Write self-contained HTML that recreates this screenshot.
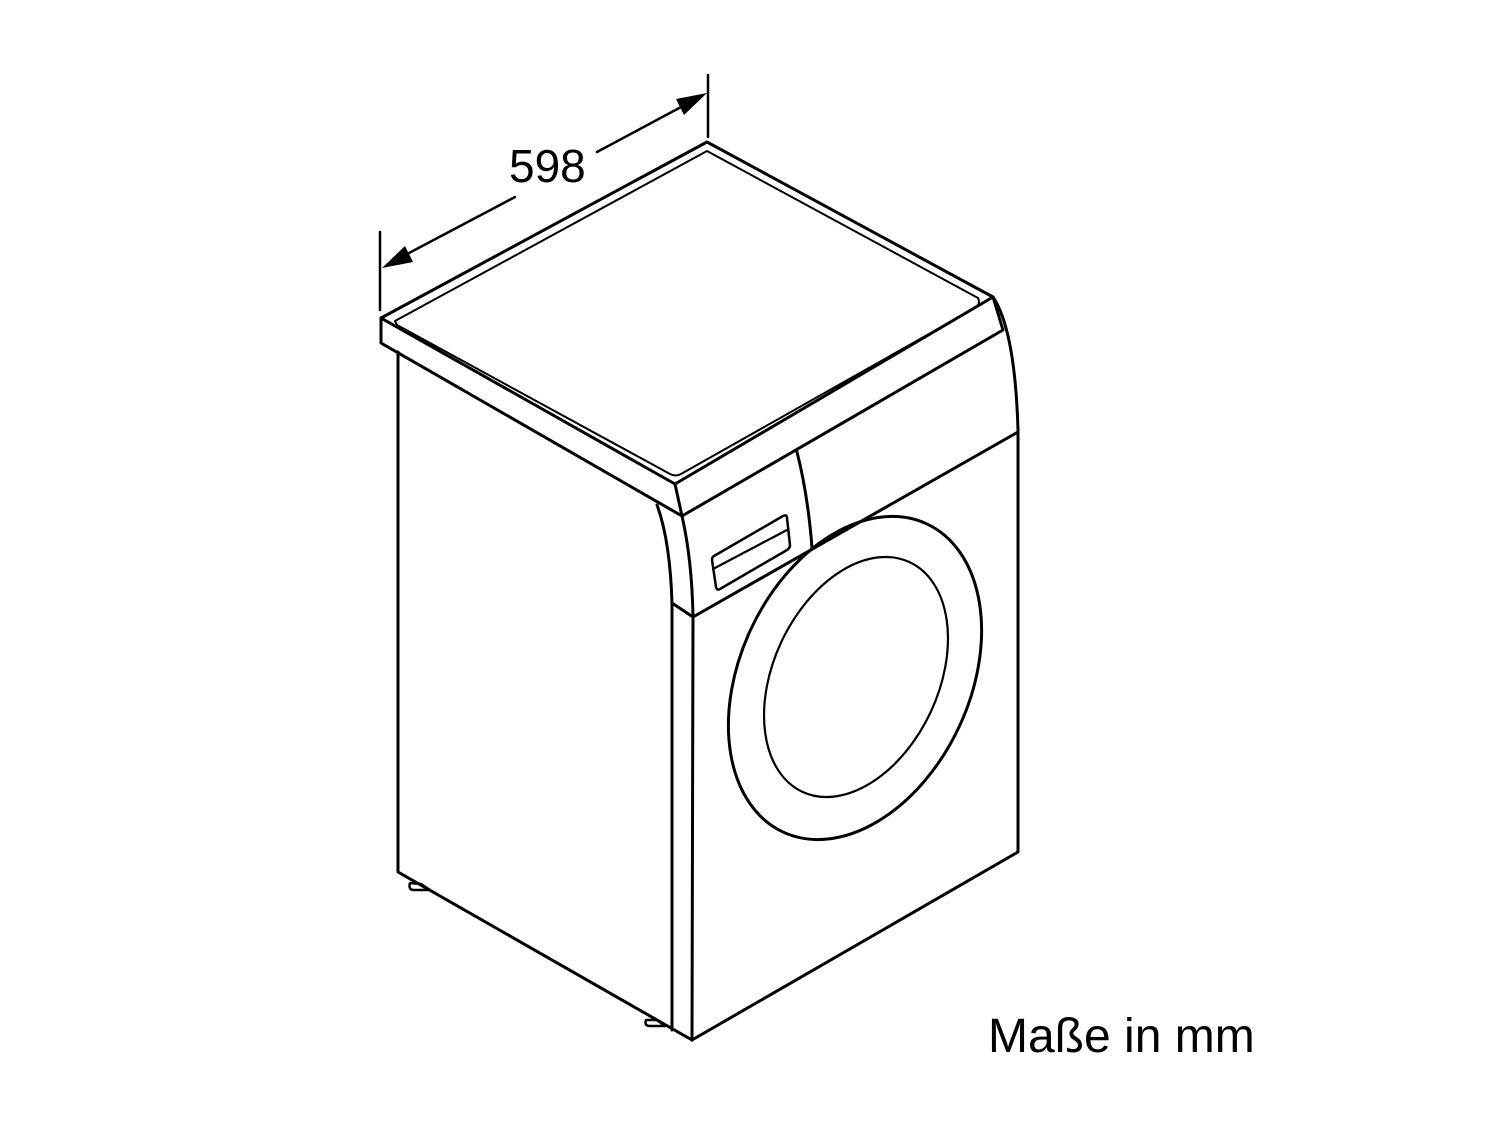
<!DOCTYPE html>
<html><head><meta charset="utf-8"><style>
html,body{margin:0;padding:0;background:#fff;}
svg{display:block;}
</style></head><body>
<svg width="1500" height="1125" viewBox="0 0 1500 1125" xmlns="http://www.w3.org/2000/svg">
<g fill="none" stroke="#000" stroke-width="3" stroke-linejoin="round" stroke-linecap="round">
<line x1="380" y1="232" x2="380" y2="310" stroke-width="2.5"/>
<line x1="708" y1="75" x2="708" y2="137" stroke-width="2.5"/>
<line x1="392" y1="262" x2="515" y2="197" stroke-width="2.5"/>
<line x1="597" y1="152" x2="696" y2="99" stroke-width="2.5"/>
<path d="M381,318 L707,142 L993,297 L675,484 Z"/>
<path d="M395,321 L707,151 L978,298 Q981,304 975,308 L681,474 Q676,477 670,474 L397,325 Z" stroke-width="2"/>
<path d="M381,318 L381,343 L682,516 L675,484"/>
<path d="M682,516 L1003,330 L993,297"/>
<path d="M993,297 Q1015,330 1018,430 L1018,852 L692,1040"/>
<line x1="1018" y1="432" x2="693" y2="617"/>
<path d="M398,352 L398,872 L692,1040"/>
<path d="M657,505 Q670,540 672,603 L672,1030"/>
<path d="M682,516 Q692,560 693,617 L692,1040"/>
<line x1="672" y1="603" x2="693" y2="617"/>
<path d="M797,452 Q808,495 812,548"/>
<path d="M714,556 L783,516 Q787,514 787,518 L790,545 Q790,548 787,550 L720,589 Q717,591 716,587 L712,560 Q712,557 714,556 Z" stroke-width="2.5"/>
<line x1="713" y1="569" x2="787" y2="530" stroke-width="2.2"/>
<ellipse cx="855" cy="678" rx="115" ry="170" transform="rotate(25 855 678)"/>
<ellipse cx="856" cy="677" rx="82.5" ry="126.7" transform="rotate(25 856 677)" stroke-width="2.2"/>
<path d="M410,883 Q408,890 414,890 L430,890 L421,884 Z" stroke-width="2.5"/>
<path d="M646,1020 Q644,1026 650,1026 L665,1026 L657,1020 Z" stroke-width="2.5"/>
</g>
<polygon points="382,268 405,246 413,262" fill="#000"/>
<polygon points="707,93 684,115 676,99" fill="#000"/>
<text x="509" y="182" font-family="Liberation Sans, Arial, sans-serif" font-size="46" fill="#000">598</text>
<text x="988" y="1052" font-family="Liberation Sans, Arial, sans-serif" font-size="48" fill="#000">Maße in mm</text>
</svg>
</body></html>
